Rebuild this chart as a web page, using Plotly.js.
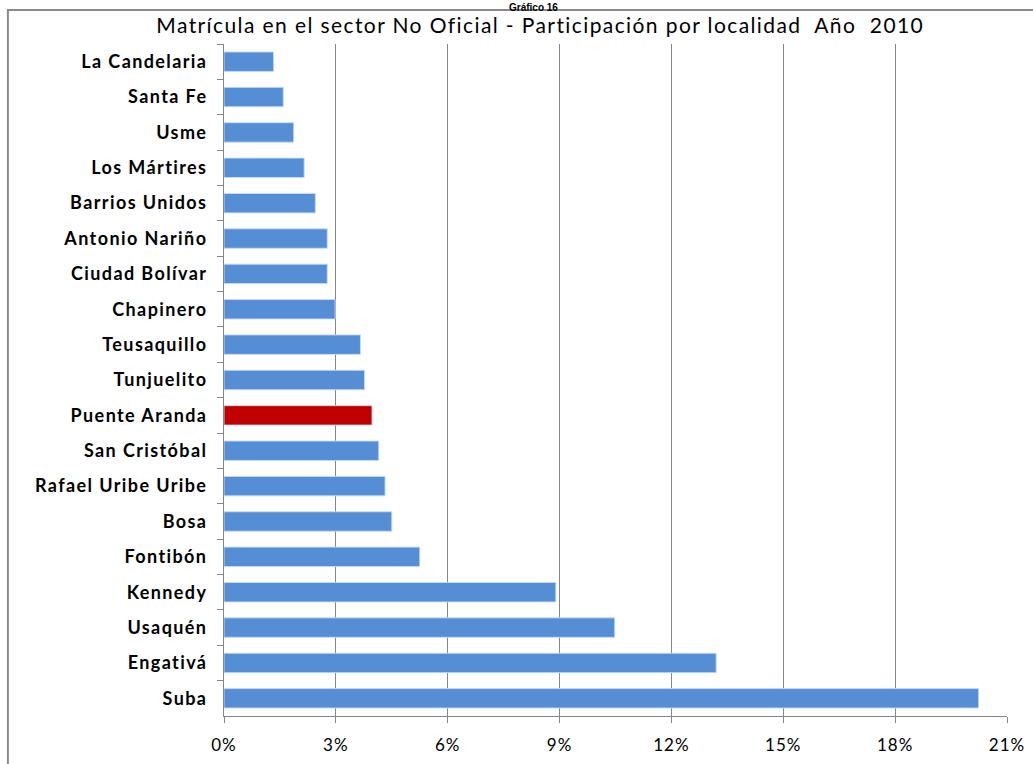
<!DOCTYPE html>
<html>
<head>
<meta charset="utf-8">
<script src="https://cdn.plot.ly/plotly-3.0.1.min.js"></script>
<style>
  html, body { margin: 0; padding: 0; background: #fff; }
  #chart { width: 1033px; height: 764px; }
  #chart .gtitle { letter-spacing: 1.4px; }
  #chart .ytick text { letter-spacing: 1.4px; }
  #chart .xtick text { letter-spacing: 1px; }
</style>
</head>
<body>
<div id="chart"></div>
<script>
// Data (top to bottom as in the chart), values in percent
const localidades = [
  "La Candelaria", "Santa Fe", "Usme", "Los Mártires", "Barrios Unidos",
  "Antonio Nariño", "Ciudad Bolívar", "Chapinero", "Teusaquillo", "Tunjuelito",
  "Puente Aranda", "San Cristóbal", "Rafael Uribe Uribe", "Bosa", "Fontibón",
  "Kennedy", "Usaquén", "Engativá", "Suba"
];
const participacion = [
  1.33, 1.59, 1.87, 2.15, 2.45,
  2.77, 2.77, 2.98, 3.66, 3.77,
  3.97, 4.15, 4.32, 4.50, 5.25,
  8.90, 10.48, 13.20, 20.24
];
const resaltada = "Puente Aranda";
const xTicks = [0, 3, 6, 9, 12, 15, 18, 21];
const xTickText = ["0%", "3%", "6%", "9%", "12%", "15%", "18%", "21%"];

const colorBase = "#558ED5";
const colorResalte = "#C00000";
const colors = localidades.map(l => l === resaltada ? colorResalte : colorBase);

const trace = {
  type: "bar",
  orientation: "h",
  x: participacion,
  y: localidades,
  marker: { color: colors, line: { color: "rgba(200,220,245,0.9)", width: 1 } },
  hoverinfo: "x+y"
};

const font = "Lato, 'Open Sans', sans-serif";

const layout = {
  width: 1033,
  height: 764,
  margin: { l: 224, r: 26, t: 44, b: 48 },
  paper_bgcolor: "#ffffff",
  plot_bgcolor: "#ffffff",
  bargap: 0.45,
  showlegend: false,
  font: { family: font, color: "#000" },
  title: {
    text: "Matrícula en el sector No Oficial - Participación por localidad  Año  2010",
    font: { family: font, size: 21, color: "#000" },
    x: 0.523, xanchor: "center",
    y: 0.967, yanchor: "middle"
  },
  xaxis: {
    range: [0, 21],
    tickvals: xTicks,
    ticktext: xTickText,
    showgrid: true,
    gridcolor: "#868686",
    gridwidth: 1,
    zeroline: false,
    showline: true,
    linecolor: "#868686",
    linewidth: 1,
    ticks: "outside",
    ticklen: 6,
    tickcolor: "#868686",
    ticklabelstandoff: 8,
    tickfont: { family: font, size: 17, color: "#000" },
    fixedrange: true
  },
  yaxis: {
    type: "category",
    autorange: "reversed",
    showline: true,
    linecolor: "#868686",
    linewidth: 1,
    showgrid: false,
    ticks: "outside",
    tickson: "boundaries",
    ticklen: 6,
    tickcolor: "#868686",
    ticklabelstandoff: 12,
    tickfont: { family: font, size: 18, color: "#000", weight: "bold" },
    fixedrange: true
  },
  shapes: [
    {
      type: "rect", xref: "paper", yref: "paper",
      x0: -0.276, x1: 1.06, y0: -0.12, y1: 1.0506,
      line: { color: "#8a8a8a", width: 2 },
      fillcolor: "rgba(0,0,0,0)",
      layer: "below"
    }
  ],
  annotations: [
    {
      text: "<b>Gráfico 16</b>",
      xref: "paper", yref: "paper",
      x: 0.395, y: 1.0655,
      xanchor: "center", yanchor: "top",
      showarrow: false,
      font: { family: "'Liberation Sans', Arial, sans-serif", size: 10, color: "#000" }
    }
  ]
};

Plotly.newPlot("chart", [trace], layout, { displayModeBar: false, staticPlot: true });
</script>
</body>
</html>
